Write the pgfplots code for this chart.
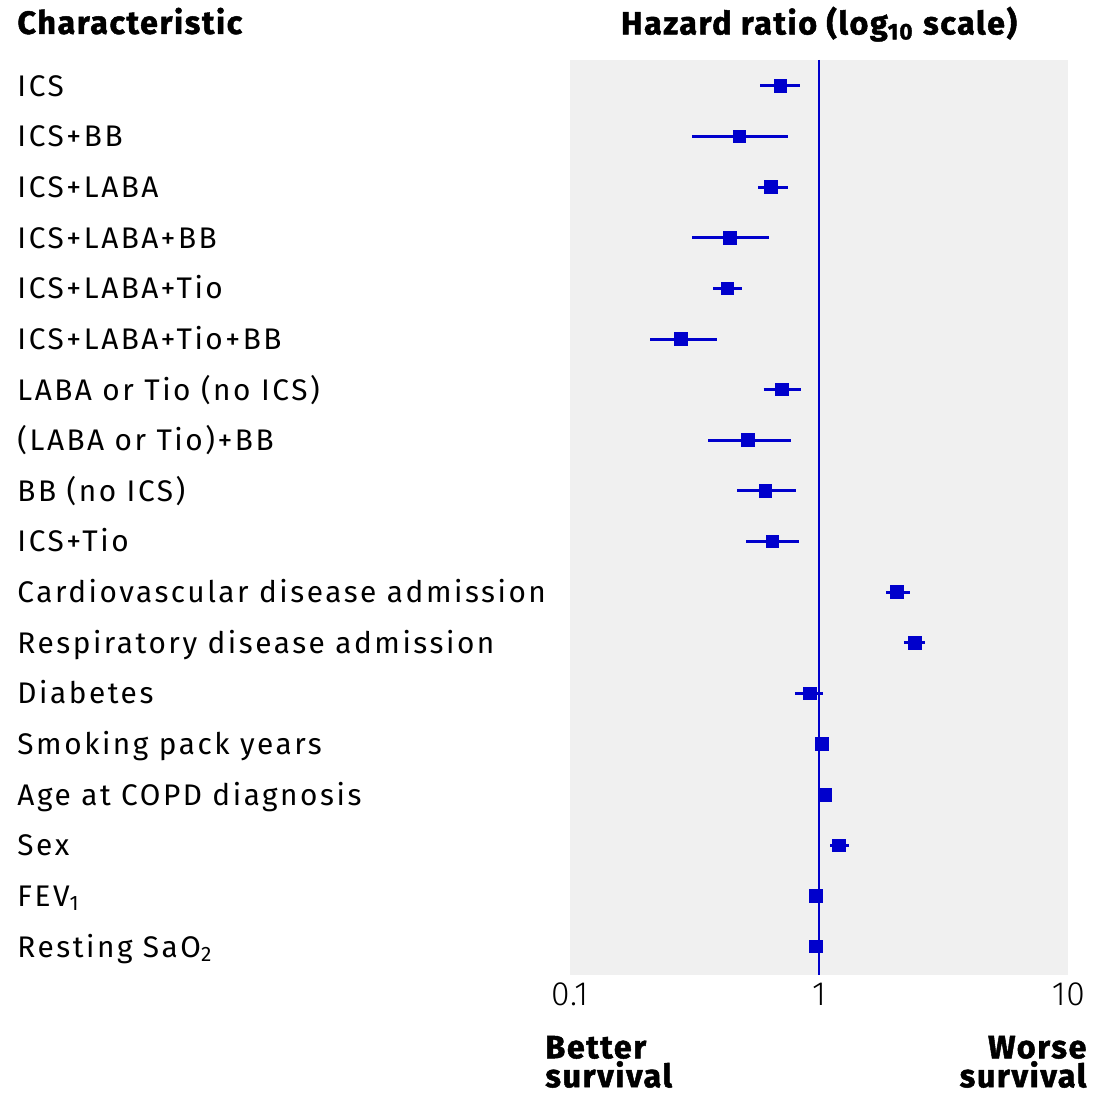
\documentclass[border=0pt]{standalone}
\usepackage{fontspec}
\setmainfont{Fira Sans}[LetterSpace=8.5]
\newfontfamily\heavyfont{Fira Sans}[BoldFeatures={FakeBold=1.5}, LetterSpace=5]
\newfontfamily\tickfont{Fira Sans Light}[LetterSpace=2]
\usepackage{pgfplots}
\pgfplotsset{compat=1.18}
\definecolor{fpblue}{RGB}{0,0,204}
\definecolor{bggray}{RGB}{240,240,240}
\begin{document}
\begin{tikzpicture}
\begin{axis}[name=ax, scale only axis, width=182.4pt, height=334.6pt,
  xmode=log, xmin=0.1, xmax=10, ymin=0.487, ymax=18.553, y dir=reverse,
  axis background/.style={fill=bggray}, axis line style={draw=none},
  major tick length=0pt, minor tick length=0pt, tick style={draw=none},
  clip=false, unbounded coords=jump,
  xtick={0.1,1,10}, xticklabels={0.1,1,10}, minor xtick={},
  xticklabel style={anchor=base, yshift=-11.3pt, font=\tickfont\fontsize{12.3}{13}\selectfont},
  ytick={1,...,18},
  yticklabels={ICS, ICS+BB, ICS+LABA, ICS+LABA+BB, ICS+LABA+Tio, ICS+LABA+Tio+BB,
    LABA or Tio (no ICS), (LABA or Tio)+BB, BB (no ICS), ICS+Tio,
    Cardiovascular disease admission, Respiratory disease admission, Diabetes,
    Smoking pack years, Age at COPD diagnosis, Sex, FEV\textsubscript{1}, Resting SaO\textsubscript{2}},
  yticklabel style={anchor=base west, inner sep=0pt, xshift=-202.2pt, yshift=-3.8pt,
    font=\fontsize{10.9}{13}\selectfont},
]
\addplot[fpblue, line width=0.9pt] coordinates {(1,0.487) (1,18.553)};
\addplot[fpblue, line width=1.1pt] table {
x y
0.58 1
0.84 1
nan nan
0.31 2
0.75 2
nan nan
0.57 3
0.75 3
nan nan
0.31 4
0.63 4
nan nan
0.376 5
0.49 5
nan nan
0.21 6
0.39 6
nan nan
0.60 7
0.85 7
nan nan
0.36 8
0.77 8
nan nan
0.47 9
0.81 9
nan nan
0.51 10
0.83 10
nan nan
1.86 11
2.32 11
nan nan
2.19 12
2.66 12
nan nan
0.80 13
1.04 13
nan nan
1.01 14
1.05 14
nan nan
1.04 15
1.08 15
nan nan
1.11 16
1.32 16
nan nan
0.96 17
0.99 17
nan nan
0.96 18
0.99 18
};
\addplot[only marks, mark=square*, mark size=2.3pt, fpblue] table {
x y
0.70 1
0.48 2
0.64 3
0.44 4
0.43 5
0.28 6
0.71 7
0.52 8
0.61 9
0.65 10
2.05 11
2.43 12
0.92 13
1.03 14
1.06 15
1.20 16
0.97 17
0.97 18
};
\end{axis}
\path ([xshift=-208.4pt,yshift=21.9pt]ax.north west) rectangle ([xshift=9.1pt,yshift=-43.5pt]ax.south east);
\tikzset{hd/.style={font=\heavyfont\bfseries\fontsize{11.8}{13}\selectfont, inner sep=0pt}}
\node[hd, anchor=base] at ([yshift=9.3pt]ax.north) {Hazard ratio (log\textsubscript{10} scale)};
\node[hd, anchor=base west] at ([xshift=-202.2pt,yshift=9.5pt]ax.north west) {Characteristic};
\node[hd, anchor=base west] at ([xshift=-9.1pt,yshift=-30.6pt]ax.south west) {Better};
\node[hd, anchor=base west] at ([xshift=-9.1pt,yshift=-41.2pt]ax.south west) {survival};
\node[hd, anchor=base east] at ([xshift=6.8pt,yshift=-30.6pt]ax.south east) {Worse};
\node[hd, anchor=base east] at ([xshift=6.8pt,yshift=-41.2pt]ax.south east) {survival};
\end{tikzpicture}
\end{document}
